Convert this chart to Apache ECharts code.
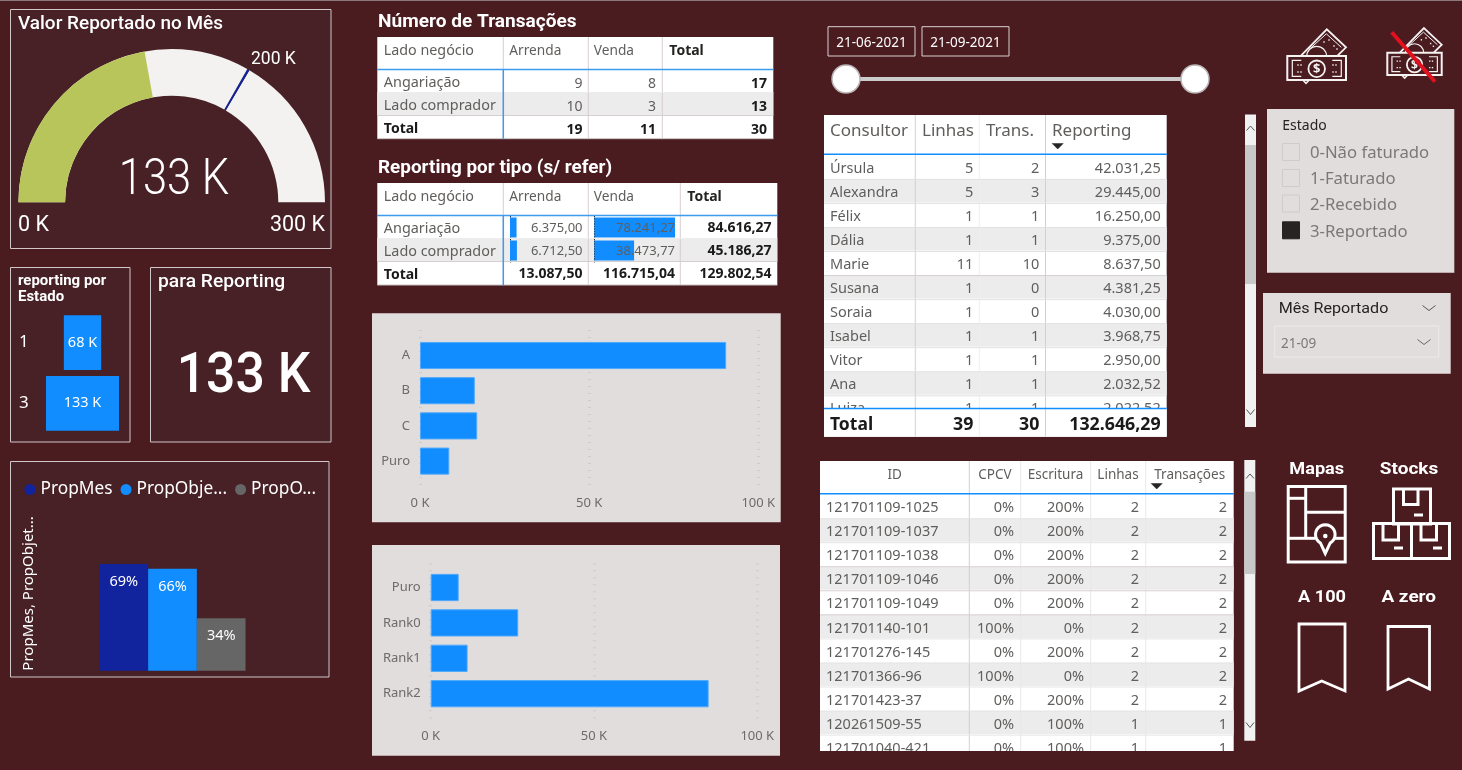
<!DOCTYPE html>
<html><head><meta charset="utf-8">
<style>html,body{margin:0;padding:0;background:#4A1B1F;overflow:hidden}#c{width:1462px;height:770px}</style>
<script src="https://cdn.jsdelivr.net/npm/echarts@6/dist/echarts.min.js"></script>
</head><body><div id="c"></div>
<script>
// ---------- data ----------
const gaugeValue = 133000, gaugeTarget = 200000, gaugeMax = 300000;
const estadoCats = ['1', '3'];
const estadoValues = [68000, 133000];
const propNames = ['PropMes', 'PropObje...', 'PropO...'];
const propValues = [69, 66, 34];
const tipoCats = ['A', 'B', 'C', 'Puro'];
const tipoValues = [90500, 16200, 16900, 8660];
const rankCats = ['Puro', 'Rank0', 'Rank1', 'Rank2'];
const rankValues = [8570, 26800, 11300, 85100];
const ladoCats = ['Angariação', 'Lado comprador', 'Total'];
const transArrenda = [9, 10, 19];
const transVenda = [8, 3, 11];
const transTotal = [17, 13, 30];
const repArrenda = [6375.00, 6712.50, 13087.50];
const repVenda = [78241.27, 38473.77, 116715.04];
const repTotal = [84616.27, 45186.27, 129802.54];
const consNames = ['Úrsula','Alexandra','Félix','Dália','Marie','Susana','Soraia','Isabel','Vitor','Ana','Luiza'];
const consLinhas = [5,5,1,1,11,1,1,1,1,1,1];
const consTrans = [2,3,1,1,10,0,0,1,1,1,1];
const consReport = [42031.25,29445.00,16250.00,9375.00,8637.50,4381.25,4030.00,3968.75,2950.00,2032.52,2022.52];
const consTotals = ['Total', 39, 30, 132646.29];
const idNames = ['121701109-1025','121701109-1037','121701109-1038','121701109-1046','121701109-1049','121701140-101','121701276-145','121701366-96','121701423-37','120261509-55','121701040-421'];
const idCpcv = ['0%','0%','0%','0%','0%','100%','0%','100%','0%','0%','0%'];
const idEscritura = ['200%','200%','200%','200%','200%','0%','200%','0%','200%','100%','100%'];
const idLinhas = [2,2,2,2,2,2,2,2,2,1,1];
const idTrans = [2,2,2,2,2,2,2,2,2,1,1];
const estadoItems = ['0-Não faturado','1-Faturado','2-Recebido','3-Reportado'];
const estadoChecked = [false,false,false,true];

// ---------- style ----------
const BG='#4A1B1F', PANEL='#472126', LIGHT='#E2DDDD', BLUE='#118DFF', NAVY='#12239E', GREY='#666666';
const UI='"Noto Sans"', DIN='Roboto';
const fmtK = v => Math.round(v/1000)+' K';
const fmtPt = v => v.toFixed(2).replace('.',',').replace(/\B(?=(\d{3})+(?!\d))/g,'.');

// ---------- graphic helpers ----------
const G=[];
function txt(x,y,text,o={}){G.push({type:'text',x,y:y+(o.font===DIN?1:1.5),scaleX:o.sx||1,z:o.z??10,silent:true,style:{text,fill:o.color||'#fff',
  font:`${o.weight||'normal'} ${o.size||14}px ${o.font||UI}`,align:o.align||'left',verticalAlign:'middle'}});}
function rect(x,y,w,h,o={}){G.push({type:'rect',z:o.z??-1,silent:true,shape:{x,y,width:w,height:h},
  style:{fill:o.fill||'none',stroke:o.stroke||'none',lineWidth:o.lw||1}});}
function line(x1,y1,x2,y2,c,lw,z){G.push({type:'line',z:z??1,silent:true,shape:{x1,y1,x2,y2},style:{stroke:c,lineWidth:lw||1}});}
function poly(pts,c,lw,z,closed,fill){G.push({type:closed?'polygon':'polyline',z:z??5,silent:true,shape:{points:pts},
  style:{stroke:c,lineWidth:lw||1,fill:fill||'none',lineJoin:'miter'}});}
function circ(cx,cy,r,o={}){G.push({type:'circle',z:o.z??5,silent:true,shape:{cx,cy,r},style:{fill:o.fill||'none',stroke:o.stroke||'none',lineWidth:o.lw||1}});}
const chevUp=(x,y,c)=>poly([[x-4,y+2.5],[x,y-2],[x+4,y+2.5]],c||'#666',1);
const chevDown=(x,y,c,w)=>poly([[x-(w||4),y-2.5],[x,y+2.5],[x+(w||4),y-2.5]],c||'#666',1);
const sortArrow=(x,y)=>poly([[x-5.5,y-2.5],[x+5.5,y-2.5],[x,y+3]],'#252423',.5,12,true,'#252423');

G.push({type:'rect',z:-2,silent:true,shape:{x:0,y:0,width:1462,height:1},style:{fill:'#8a7a7c'}});

// ---------- panels ----------
const panel=(x0,y0,x1,y1)=>rect(x0,y0,x1-x0,y1-y0,{fill:PANEL,stroke:'#CFC7C8',lw:1});
panel(10.5,9.5,331,248.5);
panel(10.5,267.5,130,442);
panel(150.5,267.5,331,442);
panel(10.5,461.5,329,677);
txt(18,23,'Valor Reportado no Mês',{font:DIN,size:18.5,weight:500,sx:1.025});
txt(18,280,'reporting por',{font:DIN,size:14,weight:700,sx:1.07});
txt(18,296,'Estado',{font:DIN,size:14,weight:700,sx:1.07});
txt(158,281,'para Reporting',{font:DIN,size:18,weight:500,sx:1.07});
txt(243.5,377,fmtK(gaugeValue),{font:DIN,size:55,weight:500,align:'center',sx:0.94});
txt(174,180,fmtK(gaugeValue),{font:DIN,size:50,weight:300,align:'center',sx:0.87});
txt(18,225,fmtK(0),{font:DIN,size:21.5});
txt(325,225,fmtK(gaugeMax),{font:DIN,size:21.5,align:'right'});
txt(251,59,fmtK(gaugeTarget),{font:DIN,size:17.5});

// ---------- transaction table ----------
const HDR='#605E5C', TXT='#605E5C', TOT='#1a1a1a', SEP='#D6CFD2', ROWG='#ECECEC', LB='#3D9BF0';
function pivot(title,titleY,titleSx,cols,top,hb,rowYs,rights,c1,c2,c3,fmt,valY,valSize){
  txt(378,titleY,title,{font:DIN,size:18,weight:700,sx:titleSx});
  const L=cols[0],R=cols[4];
  rect(L,top,R-L,rowYs[3]-top,{fill:'#fff',z:-1});
  rect(L,rowYs[1],R-L,rowYs[2]-rowYs[1],{fill:ROWG,z:-1});
  for(let i=1;i<4;i++) line(cols[i],top,cols[i],rowYs[3],SEP,1,1);
  line(L,rowYs[1],R,rowYs[1],'#EDEDED',1,1);
  line(L,rowYs[2],R,rowYs[2],SEP,1,1);
  line(L,rowYs[3],R,rowYs[3],'#C9C3C5',1,1);
  line(L,hb,R,hb,LB,1.5,1);
  line(cols[1],hb,cols[1],rowYs[3],LB,1.5,1);
  txt(L+6.5,top+12,'Lado negócio',{size:14.3,color:HDR});
  txt(cols[1]+6,top+13,'Arrenda',{size:13.7,color:HDR});
  txt(cols[2]+5.5,top+13,'Venda',{size:13.7,color:HDR});
  txt(cols[3]+7,top+13,'Total',{size:14,color:'#252423',weight:700});
  ladoCats.forEach((c,i)=>{
    const isT=i===2, yL=(rowYs[i]+rowYs[i+1])/2+(isT?0:0.5), yV=valY[i];
    txt(L+6.5,yL,c,{size:isT?14:14.4,color:isT?TOT:TXT,weight:isT?700:'normal'});
    txt(rights[0],yV,fmt(c1[i]),{size:isT?14:valSize,align:'right',color:isT?TOT:TXT,weight:isT?700:'normal'});
    txt(rights[1],yV,fmt(c2[i]),{size:isT?14:valSize,align:'right',color:isT?TOT:TXT,weight:isT?700:'normal'});
    txt(rights[2],yV,fmt(c3[i]),{size:14,align:'right',color:TOT,weight:700});
  });
}
pivot('Número de Transações',21,1.06,[377.3,503.3,588.3,662.3,773.3],37,69.5,[69.5,92.5,115.5,138.7],[582.5,656,767],
      transArrenda,transVenda,transTotal,String,[82.5,105.5,128.5],14);
pivot('Reporting por tipo (s/ refer)',167,1.05,[377.3,503.3,588.3,680.3,777.3],183,215.5,[215.5,238.5,261.5,285],[582.5,675,771.5],
      repArrenda,repVenda,repTotal,fmtPt,[227,250,273],13);

// ---------- consultor table ----------
(function(){
  const cols=[824,915.3,979.3,1045.5,1166.7], top=115, hb=154.3, bottom=436.7, rowH=24.05, y0=155.3;
  const rights=[973.3,1039.3,1160.7];
  rect(cols[0],top,cols[4]-cols[0],bottom-top,{fill:'#fff',z:-1});
  [1,2,3].forEach(i=>line(cols[i],top,cols[i],bottom,i===2?'#EFEFEF':SEP,1,1));
  line(cols[0],hb,cols[4],hb,BLUE,1.5,1);
  [['Consultor',830],['Linhas',922],['Trans.',986],['Reporting',1052]].forEach(h=>txt(h[1],130,h[0],{size:17,color:HDR}));
  sortArrow(1057.7,146);
  consNames.forEach((n,i)=>{
    const yT=y0+i*rowH, yC=yT+rowH/2;
    if(i%2===1) rect(cols[0],yT,cols[4]-cols[0],rowH-1,{fill:ROWG,z:-1});
    if(i>0) line(cols[0],yT,cols[4],yT,i===5?SEP:'#E3E0E1',1,1);
    txt(830,yC,n,{size:14.5,color:TXT,z:8});
    txt(rights[0],yC,String(consLinhas[i]),{size:14.5,align:'right',color:TXT,z:8});
    txt(rights[1],yC,String(consTrans[i]),{size:14.5,align:'right',color:TXT,z:8});
    txt(rights[2],yC,fmtPt(consReport[i]),{size:14.5,align:'right',color:TXT,z:8});
  });
  // total footer covers the partly scrolled last row
  rect(cols[0],408.5,cols[4]-cols[0],bottom-408.5,{fill:'#fff',z:9});
  [1,2,3].forEach(i=>line(cols[i],408.5,cols[i],bottom,i===2?'#EFEFEF':SEP,1,9));
  line(cols[0],408.5,cols[4],408.5,BLUE,1.5,9);
  txt(830,423.5,consTotals[0],{size:17.5,weight:700,color:TOT,z:10});
  txt(rights[0],423.5,String(consTotals[1]),{size:17.8,weight:700,align:'right',color:TOT,z:10});
  txt(rights[1],423.5,String(consTotals[2]),{size:17.8,weight:700,align:'right',color:TOT,z:10});
  txt(rights[2],423.5,fmtPt(consTotals[3]),{size:17.8,weight:700,align:'right',color:TOT,z:10});
})();

// ---------- id table ----------
(function(){
  const cols=[820,969.3,1020.7,1090.7,1145.7,1233.7], top=461, hb=493.7, bottom=751, rowH=24.05, y0=494.6;
  rect(cols[0],top,cols[5]-cols[0],bottom-top,{fill:'#fff',z:-1});
  [1,2,3,4].forEach(i=>line(cols[i],top,cols[i],bottom,i===1?SEP:'#E8E8E8',1,1));
  line(cols[0],hb,cols[5],hb,BLUE,1.5,1);
  [['ID',894.7],['CPCV',995],['Escritura',1055.5],['Linhas',1118],['Transações',1189.7]].forEach(h=>
    txt(h[1],474,h[0],{size:13.5,color:HDR,align:'center'}));
  sortArrow(1156.7,486);
  const rs=[1014,1084,1139,1227];
  idNames.forEach((n,i)=>{
    const yT=y0+i*rowH, yC=yT+rowH/2;
    if(i%2===1) rect(cols[0],yT,cols[5]-cols[0],rowH-1,{fill:ROWG,z:-1});
    if(i>0) line(cols[0],yT,cols[5],yT,(i===3||i===4||i===5)?'#D9CFD2':'#E6E4E5',1,1);
    txt(826,yC,n,{size:14.5,color:TXT,z:8});
    [idCpcv[i],idEscritura[i],String(idLinhas[i]),String(idTrans[i])].forEach((v,j)=>
      txt(rs[j],yC,v,{size:14.5,align:'right',color:TXT,z:8}));
  });
  rect(815,bottom,425,19,{fill:BG,z:9});
})();

// ---------- scrollbars ----------
rect(1245,114.5,11,312.5,{fill:'#F1F1F1',z:1});
rect(1245,145,11,139,{fill:'#C8C8C8',z:1});
chevUp(1250.5,128,'#555'); chevDown(1250.5,412,'#555');
rect(1244.3,460,11,280.7,{fill:'#F1F1F1',z:1});
rect(1244.3,491.7,11,82.3,{fill:'#C8C8C8',z:1});
chevUp(1250,476,'#555'); chevDown(1250,725,'#555');

// ---------- date slicer ----------
rect(828,26.7,87,29.3,{stroke:'#D9D2D3',lw:1,z:1});
rect(922,26.7,87,29.3,{stroke:'#D9D2D3',lw:1,z:1});
txt(871.5,41.5,'21-06-2021',{size:13.5,align:'center'});
txt(965.5,41.5,'21-09-2021',{size:13.5,align:'center'});
line(846,79,1195,79,'#CCCCCC',4,1);
circ(846,79,14,{fill:'#fff',stroke:'#B9B4B5',lw:1.5,z:2});
circ(1195,79,14,{fill:'#fff',stroke:'#B9B4B5',lw:1.5,z:2});

// ---------- estado slicer ----------
rect(1267,109,187.3,163.7,{fill:LIGHT,z:-1});
txt(1282.3,125,'Estado',{size:14,color:'#252423'});
estadoItems.forEach((s,i)=>{
  const y=[152,178,203.5,230.3][i];
  rect(1282.5,y-8.5,17,17,{fill:estadoChecked[i]?'#252423':'none',stroke:estadoChecked[i]?'#252423':'#CDCBCB',lw:1,z:1});
  txt(1310,y,s,{size:16.7,color:'#7D7878'});
});
rect(1263,293,187.7,80.7,{fill:LIGHT,z:-1});
txt(1278.7,308,'Mês Reportado',{font:DIN,size:14.5,color:'#252423',sx:1.11});
chevDown(1429,308,'#555',6.5);
rect(1274.7,326,164,31,{stroke:'#EDEAEA',lw:1,z:1});
txt(1281,343,'21-09',{size:13.5,color:'#7D7878'});
chevDown(1424,342,'#666',6.5);

// ---------- dollar icons ----------
function dollarIcon(x,y,s){
  const P=(a,b)=>[x+a*s,y+b*s], W='#F5F2F2';
  poly([P(13,27),P(39.5,0),P(58.7,18),P(49.5,27)],W,1.8);
  poly([P(22,20),P(39,4.5),P(54,18)],W,1);
  circ(x+29.4*s,y+27*s,10*s,{stroke:W,lw:1.2});
  [[36,12],[41,10],[46,16],[49,19]].forEach(d=>rect(x+d[0]*s,y+d[1]*s,1.4,1.4,{fill:W,z:5}));
  rect(x,y+26.7*s,58.7*s,24*s,{fill:BG,stroke:W,lw:2,z:6});
  poly([P(14,47),P(5,47),P(5,31),P(14,31)],W,1.2,7);
  poly([P(45,31),P(54,31),P(54,47),P(45,47)],W,1.2,7);
  [[10,35],[13,35],[10,42],[13,42],[45,35],[48,35],[45,42],[48,42]].forEach(d=>rect(x+d[0]*s,y+d[1]*s,1.4,1.4,{fill:W,z:7}));
  circ(x+29.4*s,y+39.5*s,8.3*s,{stroke:W,lw:1.8,z:7,fill:BG});
  G.push({type:'text',x:x+29.4*s,y:y+40*s,z:8,silent:true,style:{text:'$',fill:W,font:`bold ${13*s}px ${UI}`,align:'center',verticalAlign:'middle'}});
  poly([P(15.5,50.7),P(18.7,54),P(22,50.7)],W,1.6,7);
}
dollarIcon(1287.3,29.3,1);
dollarIcon(1387.3,28,.927);
line(1391.7,32.3,1435,81.7,'#E3101E',4,9);

// ---------- bottom-right icons ----------
const W='#FFFFFF', LW=3;
txt(1316.7,469,'Mapas',{font:DIN,size:16.5,weight:700,align:'center',sx:1.1});
txt(1409,469,'Stocks',{font:DIN,size:16.5,weight:700,align:'center',sx:1.15});
txt(1322,596.5,'A 100',{font:DIN,size:16.5,weight:700,align:'center',sx:1.1});
txt(1408.7,596.5,'A zero',{font:DIN,size:16.5,weight:700,align:'center',sx:1.15});
rect(1288.2,486.5,57,75.5,{stroke:W,lw:LW,z:5});
line(1305.7,486,1305.7,538.3,W,LW,5);
line(1288,498.3,1305.7,498.3,W,LW,5);
line(1305.7,512.3,1345,512.3,W,LW,5);
line(1288,538.3,1315,538.3,W,LW,5);
line(1335,538.3,1345,538.3,W,LW,5);
// map pin: a teardrop traced round its head
const pinC=[1325.3,534.5], pinR=9.8, pinPts=[[1325.3,553.5]];
for(let a=150;a>=-150;a-=15){const t=(a-90)*Math.PI/180;pinPts.push([pinC[0]+pinR*Math.cos(t+Math.PI),pinC[1]-pinR*Math.sin(t+Math.PI)]);}
poly(pinPts,W,LW,6,true,BG);
circ(1325.3,536,2.3,{fill:W,z:7});
rect(1393.5,489,37,35,{stroke:W,lw:LW,z:5});
rect(1373.5,523.5,38,35,{stroke:W,lw:LW,z:5});
rect(1411.5,523.5,38,35,{stroke:W,lw:LW,z:5});
[[1403.5,489,1418,504.5],[1383,523.5,1398.5,540],[1421,523.5,1436.5,540]].forEach(b=>
  poly([[b[0],b[1]],[b[0],b[3]],[b[2],b[3]],[b[2],b[1]]],W,LW));
line(1414,515,1423,515,W,LW,5);
line(1394,548,1403,548,W,LW,5);
line(1433,548,1442,548,W,LW,5);
poly([[1299,624],[1345,624],[1345,691],[1321.7,681],[1299,691]],W,2.8,5,true);
poly([[1388,626.5],[1429.5,626.5],[1429.5,689],[1408.5,679],[1388,689]],W,2.8,5,true);

// ---------- light chart panels ----------
rect(372,313.3,408.7,209,{fill:LIGHT,z:-1});
rect(372,545,408,210.7,{fill:LIGHT,z:-1});

// ---------- axis builders ----------
function gridX(i,labelOffset){return {gridIndex:i,type:'value',min:0,max:100000,interval:50000,
  axisLine:{show:false},axisTick:{show:false},
  axisLabel:{color:'#6E6A6A',fontSize:13,fontFamily:UI,margin:labelOffset,hideOverlap:false,formatter:fmtK},
  splitLine:{show:true,lineStyle:{color:'#CFCBCB',type:[1,6],width:3}}};}
const barsX=i=>({gridIndex:i,type:'value',min:0,max:100000,show:false});
const barsY=(i,cats)=>({gridIndex:i,type:'category',inverse:true,data:cats,axisLine:{show:false},axisTick:{show:false},
  axisLabel:{color:'#6E6A6A',fontSize:13,fontFamily:UI,margin:10,padding:[7,0,0,0]}});
const barStyle={color:BLUE,borderColor:'#4FA9FB',borderWidth:1};
const dataBarY=i=>({gridIndex:i,type:'category',inverse:true,data:ladoCats.slice(0,2),
  axisLine:{show:true,lineStyle:{color:'#111',type:[1,1.5],width:1}},axisTick:{show:false},axisLabel:{show:false}});
const dataBarMax=Math.max(...repVenda.slice(0,2));

const option={
  animation:false,
  backgroundColor:BG,
  textStyle:{fontFamily:UI},
  graphic:{elements:G},
  legend:{left:24.5,top:481,icon:'circle',itemWidth:11,itemHeight:11,itemGap:8,padding:0,
    data:propNames,textStyle:{color:'#fff',fontSize:17.3,fontFamily:UI}},
  grid:[
    {left:46,top:312.3,width:73,height:121.4},         //0 estado
    {left:60,top:516.1,width:225,height:154.6},        //1 prop
    {left:420,top:330,width:338.3,height:160},         //2 tipo gridlines
    {left:420,top:337.9,width:338.3,height:140.8},     //3 tipo bars
    {left:430.7,top:563.3,width:326.6,height:158.4},   //4 rank gridlines
    {left:430.7,top:569.8,width:326.6,height:141.6},   //5 rank bars
    {left:510,top:216,width:80.5,height:46},           //6 databar arrenda
    {left:594.5,top:216,width:80.5,height:46}          //7 databar venda
  ],
  xAxis:[
    {gridIndex:0,type:'value',min:-gaugeValue/2,max:gaugeValue/2,show:false},
    {gridIndex:1,type:'category',data:['Prop'],show:false},
    gridX(2,7),barsX(3),gridX(4,8),barsX(5),
    {gridIndex:6,type:'value',min:0,max:dataBarMax,show:false},
    {gridIndex:7,type:'value',min:0,max:dataBarMax,show:false}
  ],
  yAxis:[
    {gridIndex:0,type:'category',inverse:true,data:estadoCats,axisLine:{show:false},axisTick:{show:false},
      axisLabel:{color:'#fff',fontSize:17,fontFamily:UI,align:'left',margin:27,padding:[5,0,0,0]}},
    {gridIndex:1,type:'value',min:0,max:100,axisLabel:{show:false},axisTick:{show:false},axisLine:{show:false},splitLine:{show:false},
      name:'PropMes, PropObjet...',nameLocation:'middle',nameRotate:90,nameGap:24,
      nameTextStyle:{color:'#fff',fontSize:15,fontFamily:UI}},
    {gridIndex:2,type:'category',show:false,data:tipoCats},barsY(3,tipoCats),
    {gridIndex:4,type:'category',show:false,data:rankCats},barsY(5,rankCats),
    dataBarY(6),dataBarY(7)
  ],
  series:[
    {type:'gauge',center:[171.7,202.3],radius:153.3,startAngle:180,endAngle:0,min:0,max:gaugeMax,
      pointer:{show:false},anchor:{show:false},axisTick:{show:false},splitLine:{show:false},axisLabel:{show:false},title:{show:false},detail:{show:false},
      progress:{show:true,width:46.7,overlap:false,itemStyle:{color:'#B8C55A'}},
      axisLine:{lineStyle:{width:46.7,color:[[gaugeTarget/gaugeMax-0.0025,'#F3F2F1'],[gaugeTarget/gaugeMax+0.0025,NAVY],[1,'#F3F2F1']]}},
      data:[{value:gaugeValue}]},
    {type:'custom',xAxisIndex:0,yAxisIndex:0,encode:{x:0,y:1},
      data:estadoValues.map((v,i)=>[v,estadoCats[i]]),
      renderItem(params,api){
        const v=api.value(0),c=api.value(1),p0=api.coord([-v/2,c]),p1=api.coord([v/2,c]),h=api.size([0,1])[1]*0.9;
        return {type:'rect',shape:{x:p0[0],y:p0[1]-h/2,width:p1[0]-p0[0],height:h},style:{fill:BLUE},
          textContent:{style:{text:fmtK(v),fill:'#fff',font:`14.5px ${UI}`,padding:[3,0,0,0]}},textConfig:{position:'inside'}};
      }},
    ...propNames.map((n,i)=>({type:'bar',name:n,xAxisIndex:1,yAxisIndex:1,barWidth:48.7,barGap:0,
      itemStyle:{color:[NAVY,BLUE,GREY][i]},
      label:{show:true,position:'insideTop',distance:10.5,color:'#fff',fontSize:14.5,fontFamily:UI,formatter:'{c}%'},
      data:[propValues[i]]})),
    {type:'bar',xAxisIndex:3,yAxisIndex:3,data:tipoValues,barCategoryGap:'23%',itemStyle:barStyle},
    {type:'bar',xAxisIndex:5,yAxisIndex:5,data:rankValues,barCategoryGap:'23%',itemStyle:barStyle},
    {type:'bar',xAxisIndex:6,yAxisIndex:6,data:repArrenda.slice(0,2),barWidth:20,itemStyle:{color:BLUE}},
    {type:'bar',xAxisIndex:7,yAxisIndex:7,data:repVenda.slice(0,2),barWidth:20,itemStyle:{color:BLUE}}
  ]
};
const chart=echarts.init(document.getElementById('c'),null,{width:1462,height:770});
chart.setOption(option);
</script></body></html>
